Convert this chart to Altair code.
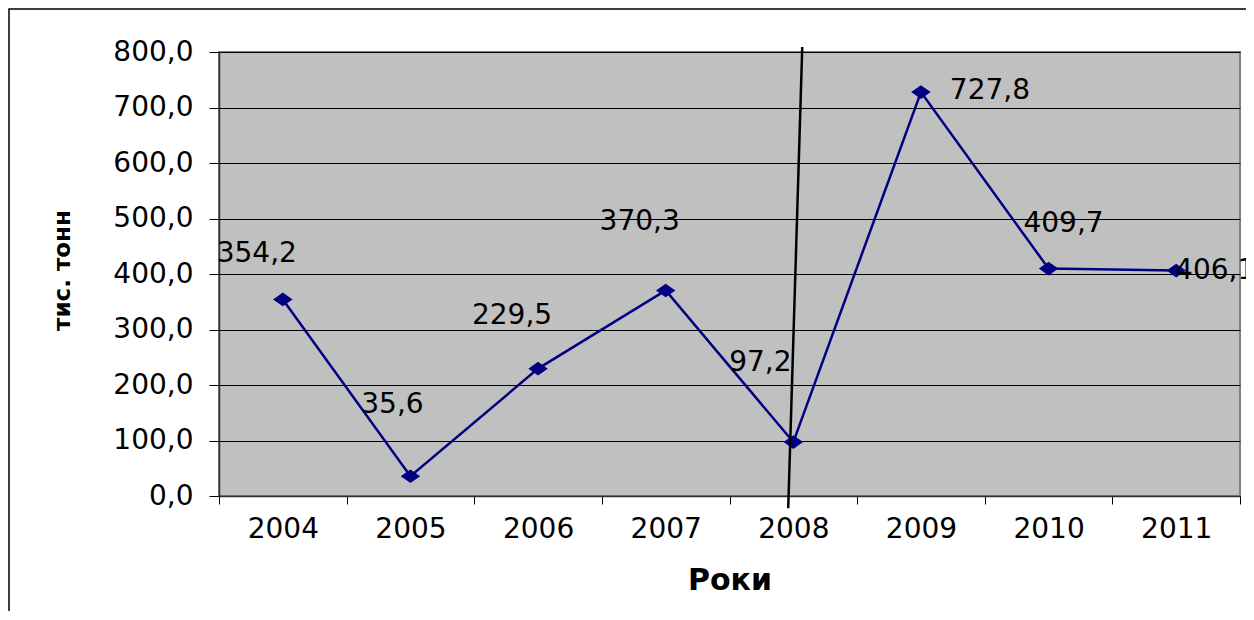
import altair as alt
import pandas as pd

years = ["2004", "2005", "2006", "2007", "2008", "2009", "2010", "2011"]
values = [354.2, 35.6, 229.5, 370.3, 97.2, 727.8, 409.7, 406.1]
labels = ["354,2", "35,6", "229,5", "370,3", "97,2", "727,8", "409,7", "406,1"]
y_ticks = [0, 100, 200, 300, 400, 500, 600, 700, 800]

# annotation line (years on a continuous axis, values in tonnes)
mark_line_x = [2008.07, 2007.96]
mark_line_y = [809, -22]

# label offsets (pixels) for each data label
label_dx = [-26, -18, -26, -26, -33, 69, 15, 39]
label_dy = [-45, -71, -53, -68, -79, -1, -45, 0]

FONT = "DejaVu Sans"
FS = 28
W, H = 1021, 444

df = pd.DataFrame({"year": years, "value": values, "label": labels})

x_enc = alt.X(
    "year:O",
    scale=alt.Scale(domain=years),
    axis=alt.Axis(
        title="Роки",
        labelAngle=0,
        tickBand="extent",
        tickSize=8,
        tickColor="#000000",
        labelPadding=11,
        labelFont=FONT,
        labelFontSize=FS,
        labelColor="#000000",
        domainColor="#303030",
        domainWidth=1.5,
        titleFont=FONT,
        titleFontSize=30,
        titleFontWeight="bold",
        titleColor="#000000",
        titleX=W / 2,
        titleY=84,
        titleBaseline="middle",
        titleAlign="center",
    ),
)
y_enc = alt.Y(
    "value:Q",
    scale=alt.Scale(domain=[0, 800], nice=False, zero=False),
    axis=alt.Axis(
        values=y_ticks,
        labelExpr="replace(format(datum.value, '.1f'), '.', ',')",
        title="тис. тонн",
        grid=True,
        gridColor="#000000",
        gridWidth=1,
        tickSize=10,
        tickColor="#000000",
        labelPadding=16,
        labelFont=FONT,
        labelFontSize=FS,
        labelColor="#000000",
        domainColor="#303030",
        domainWidth=1.5,
        titleFont=FONT,
        titleFontSize=23,
        titleFontWeight="bold",
        titleColor="#000000",
        titleAngle=270,
        titleX=-157,
        titleY=218,
        titleBaseline="middle",
        titleAlign="center",
    ),
)

base = alt.Chart(df)
line = base.mark_line(color="#000080", strokeWidth=2.5).encode(x=x_enc, y=y_enc)
pts = base.mark_point(
    shape="M-1,0L0,-0.7L1,0L0,0.7Z", filled=True, color="#000080", opacity=1, size=380
).encode(x=alt.X("year:O", scale=alt.Scale(domain=years)), y="value:Q")

texts = []
for i in range(len(years)):
    sub = df.iloc[[i]]
    texts.append(
        alt.Chart(sub)
        .mark_text(dx=label_dx[i], dy=label_dy[i], font=FONT, fontSize=FS, color="#000000")
        .encode(x=alt.X("year:O", scale=alt.Scale(domain=years)), y="value:Q", text="label:N")
    )

inner = alt.layer(line, pts, *texts)

ann = pd.DataFrame(
    {"x": [mark_line_x[0]], "x2": [mark_line_x[1]], "y": [mark_line_y[0]], "y2": [mark_line_y[1]]}
)
rule = alt.Chart(ann).mark_rule(color="#000000", strokeWidth=2.5, clip=False).encode(
    x=alt.X("x:Q", scale=alt.Scale(domain=[2003.5, 2011.5], nice=False, zero=False), axis=None),
    x2="x2:Q",
    y="y:Q",
    y2="y2:Q",
)

frame = alt.Chart(pd.DataFrame({"a": [0]})).mark_rect(
    fill=None, fillOpacity=0, stroke="#000000", strokeWidth=1.5, clip=False
).encode(
    x=alt.value(-210), x2=alt.value(1200), y=alt.value(-43), y2=alt.value(700)
)

chart = (
    alt.layer(inner, rule, frame)
    .resolve_scale(x="independent")
    .properties(
        width=W,
        height=H,
        padding={"left": 211, "top": 44, "right": 6, "bottom": 115},
        autosize=alt.AutoSizeParams(type="none"),
        background="#ffffff",
    )
    .configure_view(fill="#C0C0C0", stroke="#808080", strokeWidth=2)
)

chart.save("out.html", embed_options={"renderer": "svg", "actions": False})
